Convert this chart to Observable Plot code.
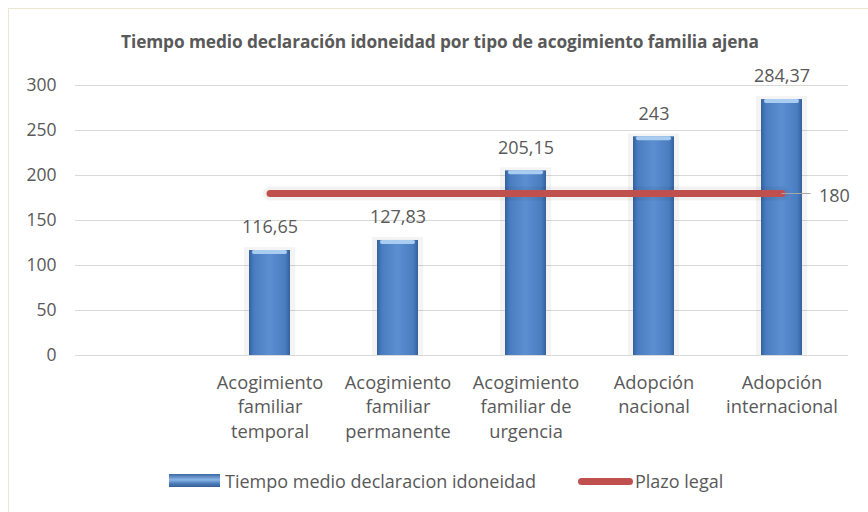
<!DOCTYPE html>
<html><head><meta charset="utf-8">
<script src="https://cdn.jsdelivr.net/npm/d3@7"></script>
<script src="https://cdn.jsdelivr.net/npm/@observablehq/plot@0.6"></script>
<style>
body{margin:0;background:#fff;font-family:"Open Sans",sans-serif;}
#wrap{position:relative;width:868px;height:512px;overflow:hidden;}
#frame{position:absolute;left:8px;top:8px;width:900px;height:540px;border:1px solid #ebe7d3;box-sizing:border-box;}
#title{position:absolute;left:6px;width:868px;top:30px;text-align:center;font-weight:700;font-size:17.3px;color:#595959;line-height:24px;letter-spacing:-0.1px;}
#chart{position:absolute;left:0;top:0;}
.lg{position:absolute;font-size:18px;color:#595959;line-height:20px;}
#sw1{position:absolute;left:169px;top:474px;width:51px;height:13px;background:linear-gradient(to bottom,#3b68a3,#8bb6e6 45%,#4f81bd 70%,#345f96);}
#sw2{position:absolute;left:578px;top:478px;width:55px;height:7px;border-radius:4px;background:#c0504d;}
</style></head>
<body>
<div id="wrap">
  <div id="frame"></div>
  <div id="chart"></div>
  <div id="title">Tiempo medio declaración idoneidad por tipo de acogimiento familia ajena</div>
  <div id="sw1"></div><div class="lg" style="left:225px;top:471px;">Tiempo medio declaracion idoneidad</div>
  <div id="sw2"></div><div class="lg" style="left:635px;top:471px;">Plazo legal</div>
</div>
<script>
const categories = ["Acogimiento familiar temporal","Acogimiento familiar permanente","Acogimiento familiar de urgencia","Adopción nacional","Adopción internacional"];
const categoryLabels = ["Acogimiento\nfamiliar\ntemporal","Acogimiento\nfamiliar\npermanente","Acogimiento\nfamiliar de\nurgencia","Adopción\nnacional","Adopción\ninternacional"];
const values = [116.65, 127.83, 205.15, 243, 284.37];
const valueLabels = ["116,65","127,83","205,15","243","284,37"];
const plazoLegal = [180, 180, 180, 180, 180];
const plazoLabel = "180";
const yTicks = [0, 50, 100, 150, 200, 250, 300];

const data = categories.map((c, i) => ({cat: c, value: values[i], label: valueLabels[i], plazo: plazoLegal[i]}));
const labelMap = new Map(categories.map((c, i) => [c, categoryLabels[i]]));
const last = data[data.length - 1];
const textColor = "#595959";

const chart = Plot.plot({
  width: 868, height: 512,
  marginTop: 85, marginBottom: 157, marginLeft: 75, marginRight: 20,
  style: {fontFamily: "Open Sans, sans-serif", color: textColor, background: "transparent"},
  x: {domain: ["", ...categories], paddingInner: 0.68, paddingOuter: 0.34},
  y: {domain: [0, 300], ticks: yTicks},
  marks: [
    Plot.gridY(yTicks, {stroke: "#d9d9d9", strokeOpacity: 1, strokeWidth: 1}),
    Plot.axisY(yTicks, {tickSize: 0, tickPadding: 19, fontSize: 17.5, fill: textColor, label: null}),
    Plot.axisX({tickSize: 0, tickPadding: 16, fontSize: 18.3, lineHeight: 1.34, fill: textColor, label: null, tickFormat: d => labelMap.get(d) ?? ""}),
    // bar shadow halo
    Plot.barY(data, {x: "cat", y: "value", fill: "#000", fillOpacity: 0.045, insetLeft: -5, insetRight: -5, insetTop: -3}),
    Plot.barY(data, {x: "cat", y: "value", fill: "url(#barGrad)"}),
    Plot.barY(data, {x: "cat", y1: "value", y2: "value", fill: "#a9cdf0", insetLeft: 3, insetRight: 3, insetBottom: -4, rx: 2}),
    Plot.text(data, {x: "cat", y: "value", text: "label", dy: -23, fontSize: 18, fill: textColor}),
    // legal deadline line
    Plot.line(data, {x: "cat", y: "plazo", stroke: "#000", strokeOpacity: 0.05, strokeWidth: 14}),
    Plot.line(data, {x: "cat", y: "plazo", stroke: "#c0504d", strokeWidth: 7, strokeLinecap: "round"}),
    Plot.tickY([last], {x: "cat", y: "plazo", stroke: "#a6a6a6", strokeWidth: 1, insetRight: 12, dx: 20.5}),
    Plot.text([last], {x: "cat", y: "plazo", text: () => plazoLabel, dx: 37, dy: 3, textAnchor: "start", fontSize: 18, fill: textColor})
  ]
});

const ns = "http://www.w3.org/2000/svg";
const defs = document.createElementNS(ns, "defs");
defs.innerHTML = `<linearGradient id="barGrad" x1="0" x2="1" y1="0" y2="0">
  <stop offset="0" stop-color="#34619c"/>
  <stop offset="0.12" stop-color="#4a7dc0"/>
  <stop offset="0.5" stop-color="#5b8fd2"/>
  <stop offset="0.88" stop-color="#4a7dc0"/>
  <stop offset="1" stop-color="#34619c"/>
</linearGradient>`;
chart.insertBefore(defs, chart.firstChild);
document.getElementById("chart").appendChild(chart);
</script>
</body></html>
